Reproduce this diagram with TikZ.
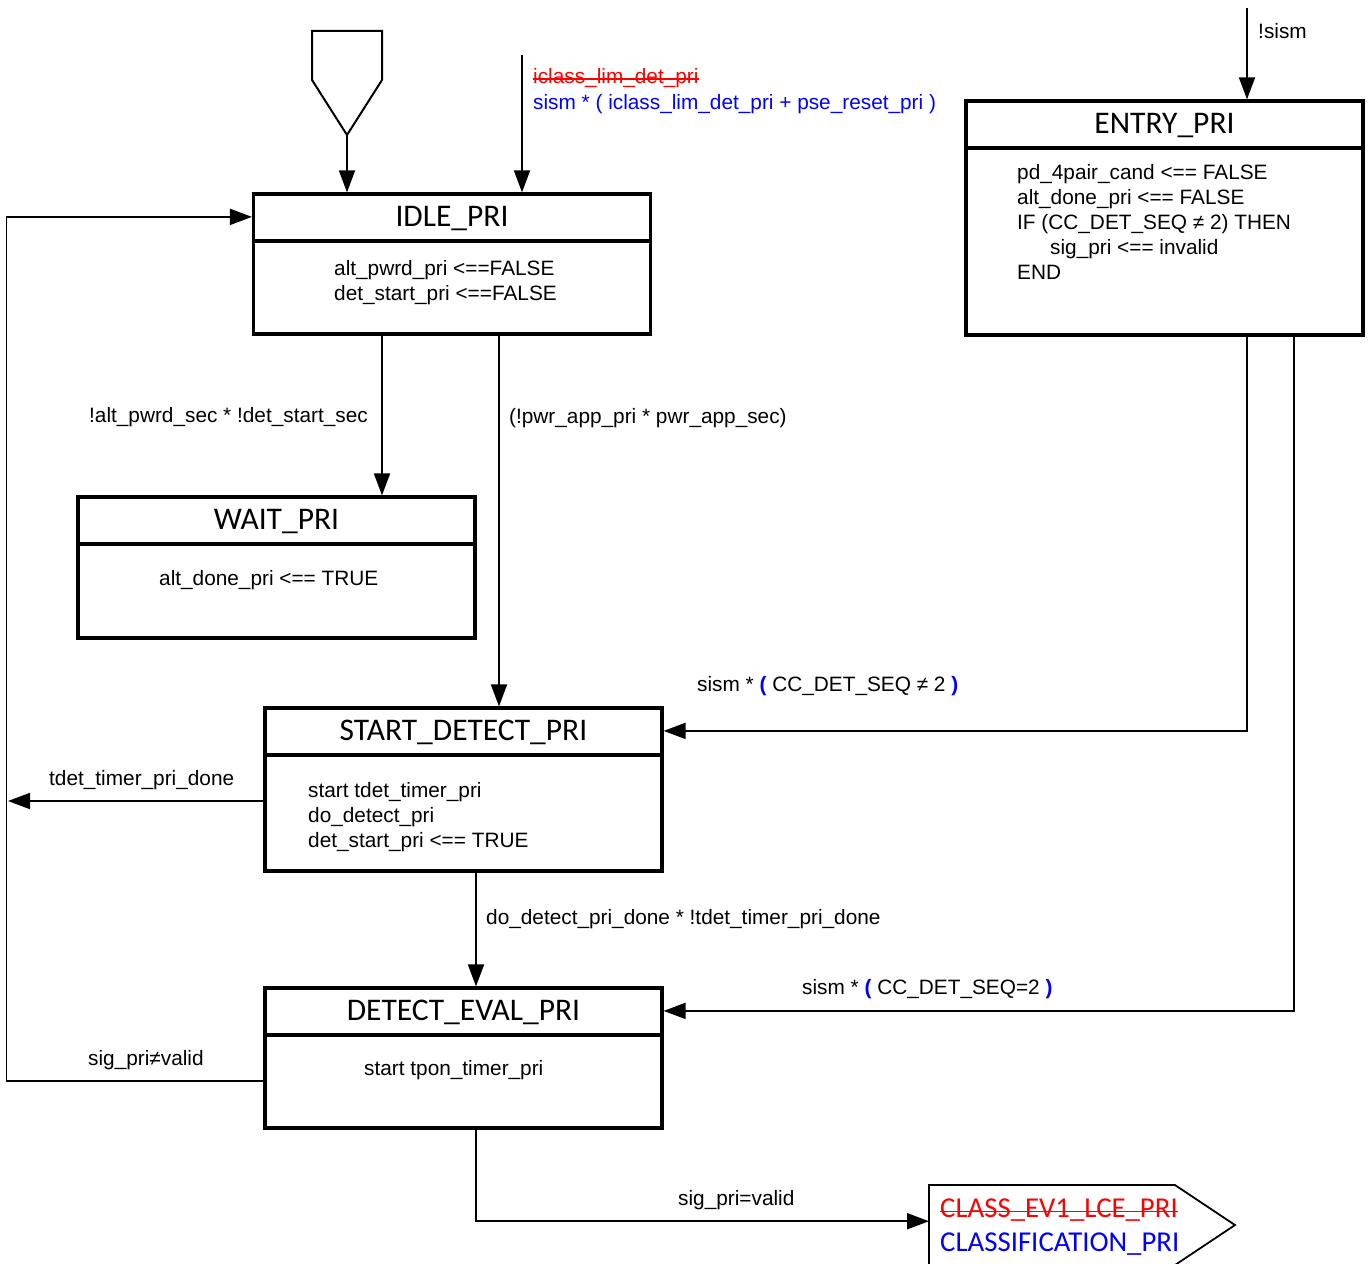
\documentclass[tikz,border=0pt]{standalone}
\usepackage{fontspec}
\setmainfont{Liberation Sans}
\newfontfamily\calfont{Carlito}
\usetikzlibrary{arrows.meta}
\definecolor{oldred}{RGB}{255,0,0}
\definecolor{newblue}{RGB}{0,0,255}
\newcommand{\bpar}[1]{{\color{newblue}\bfseries #1}}

\begin{document}
\begin{tikzpicture}[x=1pt,y=-1pt,
  font=\fontsize{20.8}{25}\selectfont,
  stbox/.style={draw, line width=3.2pt, inner sep=0pt, minimum width=397pt},
  divline/.style={line width=3.2pt},
  ttl/.style={font=\calfont\fontsize{31.5}{32}\selectfont, inner sep=0pt},
  body/.style={anchor=base west, align=left, inner sep=0pt},
  lbl/.style={anchor=base west, inner sep=0pt},
  conn/.style={line width=1.8pt, -{Triangle[length=22pt,width=16pt]}},
  wire/.style={line width=1.8pt},
  strike/.style={oldred, line width=1.3pt}]
\useasboundingbox (0,0) rectangle (1370,1263);
\node[stbox, minimum height=140pt] (idle) at (452,264) {};
\node[stbox, minimum height=141pt] (wait) at (276.5,567.5) {};
\node[stbox, minimum height=163pt] (start) at (463.5,789.5) {};
\node[stbox, minimum height=140pt] (evalpri) at (463.5,1058) {};
\node[stbox, minimum height=234pt] (entry) at (1164.5,218) {};
\foreach \s in {idle,wait,start,evalpri,entry}
  \draw[divline] ([yshift=-48.5pt]\s.north west) -- ([yshift=-48.5pt]\s.north east);
\node[ttl] (idlet) at ([yshift=-26pt]idle.north) {IDLE\_PRI};
\node[ttl] (waitt) at ([yshift=-26pt]wait.north) {WAIT\_PRI};
\node[ttl] (startt) at ([yshift=-26pt]start.north) {START\_DETECT\_PRI};
\node[ttl] (evalt) at ([yshift=-26pt]evalpri.north) {DETECT\_EVAL\_PRI};
\node[ttl] (entryt) at ([yshift=-26pt]entry.north) {ENTRY\_PRI};
\node[body] (idleb) at (334,300) {alt\_pwrd\_pri <==FALSE\\det\_start\_pri <==FALSE};
\node[body] (waitb) at (159,585) {alt\_done\_pri <== TRUE};
\node[body] (startb) at (308,847) {start tdet\_timer\_pri\\do\_detect\_pri\\det\_start\_pri <== TRUE};
\node[body] (evalb) at (364,1075) {start tpon\_timer\_pri};
\node[body] (entryb) at (1017,279) {pd\_4pair\_cand <== FALSE\\alt\_done\_pri <== FALSE\\IF (CC\_DET\_SEQ ≠ 2) THEN\\\hspace*{33pt}sig\_pri <== invalid\\END};
\draw[line width=2pt] (312,31) -- (382,31) -- (382,80) -- (347,135) -- (312,80) -- cycle;
\coordinate (init) at (347,135);
\coordinate (resetin) at (522,55);
\coordinate (sismin) at (1247,8);
\coordinate (timeout) at (8,801);
\draw[wire] (929,1185) -- (1175,1185) -- (1235,1225) -- (1175,1265) -- (929,1265) -- cycle;
\node[anchor=north west, minimum width=246pt, minimum height=72pt, inner sep=0pt] (classpri) at (929,1185) {};
\node[lbl, font=\calfont\fontsize{28.8}{30}\selectfont, text=oldred] (oldname) at (940,1217) {CLASS\_EV1\_LCE\_PRI};
\draw[strike] ([yshift=5.5pt]oldname.base west) -- ([yshift=5.5pt]oldname.base east);
\node[lbl, font=\calfont\fontsize{28.8}{30}\selectfont, text=newblue] (newname) at (940,1251) {CLASSIFICATION\_PRI};
\draw[conn] (init) -- (init |- idle.north);
\draw[conn] (resetin) -- (resetin |- idle.north);
\draw[conn] (sismin) -- (sismin |- entry.north);
\draw[conn] ([xshift=-70pt]idle.south) -- ([xshift=-70pt]idle.south |- wait.north);
\draw[conn] ([xshift=47pt]idle.south) -- ([xshift=47pt]idle.south |- start.north);
\draw[conn] ([xshift=82.5pt]entry.south) |- ([yshift=-24.5pt]start.north east);
\draw[conn] ([xshift=129.5pt]entry.south) |- ([yshift=-24.5pt]evalpri.north east);
\draw[conn] (start.west |- timeout) -- (timeout);
\draw[conn] ([xshift=12.5pt]start.south) -- ([xshift=12.5pt]evalpri.north);
\draw[conn] ([yshift=-23pt]evalpri.west) -- ++(-257,0) |- ([yshift=-24.5pt]idle.north west);
\draw[conn] ([xshift=12.5pt]evalpri.south) |- (classpri.west);
\node[lbl, text=oldred] (l1) at (533,84) {iclass\_lim\_det\_pri};
\draw[strike] ([yshift=5pt]l1.base west) -- ([yshift=5pt]l1.base east);
\node[lbl, text=newblue] (l2) at (533,109) {sism * ( iclass\_lim\_det\_pri + pse\_reset\_pri )};
\node[lbl] (l3) at (1258,38) {!sism};
\node[lbl, anchor=base east] (l4) at (368,422) {!alt\_pwrd\_sec * !det\_start\_sec};
\node[lbl] (l5) at (509,423) {(!pwr\_app\_pri * pwr\_app\_sec)};
\node[lbl] (l6) at (697,691) {sism * \bpar{(} CC\_DET\_SEQ ≠ 2 \bpar{)}};
\node[lbl] (l7) at (49,785) {tdet\_timer\_pri\_done};
\node[lbl] (l8) at (486,924) {do\_detect\_pri\_done * !tdet\_timer\_pri\_done};
\node[lbl] (l9) at (802,994) {sism * \bpar{(} CC\_DET\_SEQ=2 \bpar{)}};
\node[lbl] (l10) at (88,1065) {sig\_pri≠valid};
\node[lbl] (l11) at (678,1205) {sig\_pri=valid};
\end{tikzpicture}
\end{document}
